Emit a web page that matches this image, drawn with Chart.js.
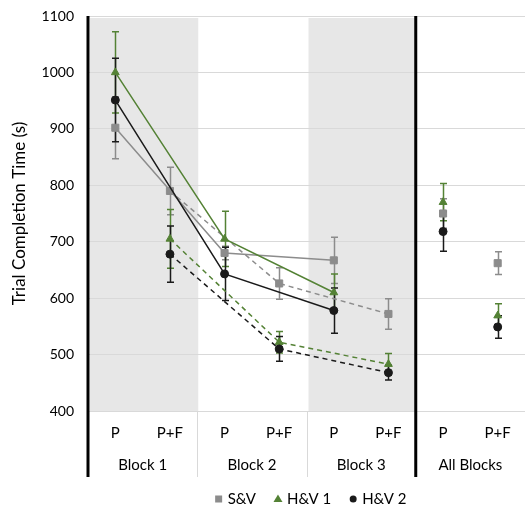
<!DOCTYPE html>
<html>
<head>
<meta charset="utf-8">
<script src="https://cdn.jsdelivr.net/npm/chart.js@4.4.0/dist/chart.umd.min.js"></script>
<style>
  html, body { margin: 0; padding: 0; background: #fff; }
  #wrap { width: 531px; height: 509px; }
</style>
</head>
<body>
<div id="wrap"><canvas id="chart" width="531" height="509"></canvas></div>
<script>
// x categories (two per block) and block names
const phases = ['P', 'P+F', 'P', 'P+F', 'P', 'P+F', 'P', 'P+F'];
const blocks = ['Block 1', 'Block 2', 'Block 3', 'All Blocks'];
const shadedBlocks = [0, 2];

// mean completion time (s): B1 P, B1 P+F, B2 P, B2 P+F, B3 P, B3 P+F, All P, All P+F
const sv  = [902, 790, 680, 626, 667, 572, 750, 662];
const hv1 = [1000, 705, 705, 522, 610, 483, 770, 569];
const hv2 = [951, 678, 643, 510, 578, 468, 718, 549];

// error bar half widths (s)
const svErr  = [55, 42, 12, 28, 41, 27, 26, 20];
const hv1Err = [72, 52, 49, 19, 33, 19, 33, 21];
const hv2Err = [74, 50, 47, 22, 40, 13, 35, 20];

const FONT = 'Lato, "Noto Sans", sans-serif';

const series = [
    { label: 'S&V',   values: sv,  err: svErr,  color: '#8c8c8c', style: 'rect',     radius: 5 },
    { label: 'H&V 1', values: hv1, err: hv1Err, color: '#548235', style: 'triangle', radius: 4.5 },
    { label: 'H&V 2', values: hv2, err: hv2Err, color: '#1a1a1a', style: 'circle',   radius: 4 }
];

// split each series into: P line (solid), P+F line (dashed), All Blocks points (no line)
const datasets = [];
series.forEach((s, k) => {
    const base = {
        borderColor: s.color,
        backgroundColor: s.color,
        pointStyle: s.style,
        pointRadius: s.radius,
        pointBorderWidth: 1,
        pointBackgroundColor: s.color,
        pointBorderColor: s.color,
        borderWidth: 1.5,
        spanGaps: true,
        order: 3 - k
    };
    datasets.push(Object.assign({}, base, {
        label: s.label,
        data: s.values.map((v, i) => (i < 6 && i % 2 === 0) ? v : null)
    }));
    datasets.push(Object.assign({}, base, {
        label: s.label + ' P+F',
        borderDash: [5, 4],
        data: s.values.map((v, i) => (i < 6 && i % 2 === 1) ? v : null)
    }));
    datasets.push(Object.assign({}, base, {
        label: s.label + ' all',
        showLine: false,
        data: s.values.map((v, i) => i >= 6 ? v : null)
    }));
});

const extrasBottom = 477;

// background shading + error bars
const underlay = {
    id: 'underlay',
    beforeDraw(chart) {
        const { ctx, chartArea, scales: { x } } = chart;
        const step = x.getPixelForValue(1) - x.getPixelForValue(0);
        ctx.save();
        ctx.fillStyle = '#e7e7e7';
        shadedBlocks.forEach(b => {
            const left = x.getPixelForValue(2 * b) - step / 2;
            const right = x.getPixelForValue(2 * b + 1) + step / 2;
            ctx.fillRect(left + 2, chartArea.top + 2, right - left - 1, chartArea.bottom - chartArea.top - 2);
        });
        ctx.restore();
    },
    beforeDatasetsDraw(chart) {
        const { ctx, scales: { x, y } } = chart;
        ctx.save();
        ctx.lineWidth = 1.5;
        series.forEach(s => {
            ctx.strokeStyle = s.color;
            s.values.forEach((v, i) => {
                const px = Math.round(x.getPixelForValue(i)) + 0.5;
                const top = y.getPixelForValue(v + s.err[i]);
                const bot = y.getPixelForValue(v - s.err[i]);
                ctx.beginPath();
                ctx.moveTo(px, top); ctx.lineTo(px, bot);
                ctx.moveTo(px - 3.5, top); ctx.lineTo(px + 3.5, top);
                ctx.moveTo(px - 3.5, bot); ctx.lineTo(px + 3.5, bot);
                ctx.stroke();
            });
        });
        ctx.restore();
    }
};

// block labels, separators, heavy axis lines, legend
const overlay = {
    id: 'overlay',
    afterDraw(chart) {
        const { ctx, chartArea, scales: { x } } = chart;
        const step = x.getPixelForValue(1) - x.getPixelForValue(0);
        ctx.save();
        ctx.font = '15px ' + FONT;
        ctx.fillStyle = '#000';
        ctx.textAlign = 'center';
        ctx.textBaseline = 'middle';
        blocks.forEach((b, i) => {
            const cx = (x.getPixelForValue(2 * i) + x.getPixelForValue(2 * i + 1)) / 2;
            ctx.fillText(b, cx, 465);
        });
        // light separators between blocks below plot
        ctx.strokeStyle = '#d9d9d9';
        ctx.lineWidth = 1;
        [1, 2].forEach(i => {
            const bx = Math.round(x.getPixelForValue(2 * i) - step / 2) + 0.5;
            ctx.beginPath();
            ctx.moveTo(bx, chartArea.bottom);
            ctx.lineTo(bx, extrasBottom);
            ctx.stroke();
        });
        // heavy lines: y axis and before "All Blocks"
        ctx.strokeStyle = '#000';
        ctx.lineWidth = 3;
        [chartArea.left, x.getPixelForValue(6) - step / 2].forEach(lx => {
            ctx.beginPath();
            ctx.moveTo(lx, chartArea.top);
            ctx.lineTo(lx, extrasBottom);
            ctx.stroke();
        });

        // legend
        ctx.font = '15px ' + FONT;
        ctx.textAlign = 'left';
        const gap = 5, itemGap = 18, mark = 8;
        const widths = series.map(s => mark + gap + ctx.measureText(s.label).width);
        const total = widths.reduce((a, b) => a + b, 0) + itemGap * (series.length - 1);
        let lx = (chartArea.left + chartArea.right) / 2 - total / 2 + 4;
        const ly = 499;
        series.forEach((s, i) => {
            ctx.fillStyle = s.color;
            const cx = lx + mark / 2;
            if (s.style === 'rect') {
                ctx.fillRect(cx - 3.5, ly - 3.5, 7, 7);
            } else if (s.style === 'triangle') {
                ctx.beginPath();
                ctx.moveTo(cx, ly - 4.5);
                ctx.lineTo(cx + 4.5, ly + 3);
                ctx.lineTo(cx - 4.5, ly + 3);
                ctx.closePath();
                ctx.fill();
            } else {
                ctx.beginPath();
                ctx.arc(cx, ly, 3.5, 0, Math.PI * 2);
                ctx.fill();
            }
            ctx.fillStyle = '#000';
            ctx.fillText(s.label, lx + mark + gap, ly);
            lx += widths[i] + itemGap;
        });
        ctx.restore();
    }
};

new Chart(document.getElementById('chart').getContext('2d'), {
    type: 'line',
    data: { labels: phases, datasets: datasets },
    options: {
        responsive: false,
        animation: false,
        layout: { padding: { top: 16, right: 3, bottom: 32, left: 0 } },
        plugins: {
            legend: { display: false },
            tooltip: { enabled: false }
        },
        scales: {
            x: {
                type: 'category',
                offset: true,
                grid: { display: false },
                border: { display: false },
                ticks: {
                    autoSkip: false,
                    maxRotation: 0,
                    padding: 5,
                    color: '#000',
                    font: { family: FONT, size: 15 }
                },
                afterFit: s => { s.height = 66; s.paddingLeft = 0; s.paddingRight = 0; }
            },
            y: {
                min: 400,
                max: 1100,
                grid: { color: '#d9d9d9', drawTicks: false },
                border: { display: false },
                ticks: {
                    stepSize: 100,
                    padding: 14,
                    color: '#000',
                    font: { family: FONT, size: 14 },
                    callback: v => String(v)
                },
                title: {
                    display: true,
                    text: 'Trial Completion Time (s)',
                    color: '#000',
                    padding: { top: 9, bottom: 0 },
                    font: { family: FONT, size: 17 }
                },
                afterFit: s => { s.width = 88; s.paddingTop = 0; s.paddingBottom = 0; }
            }
        }
    },
    plugins: [underlay, overlay]
});
</script>
</body>
</html>
